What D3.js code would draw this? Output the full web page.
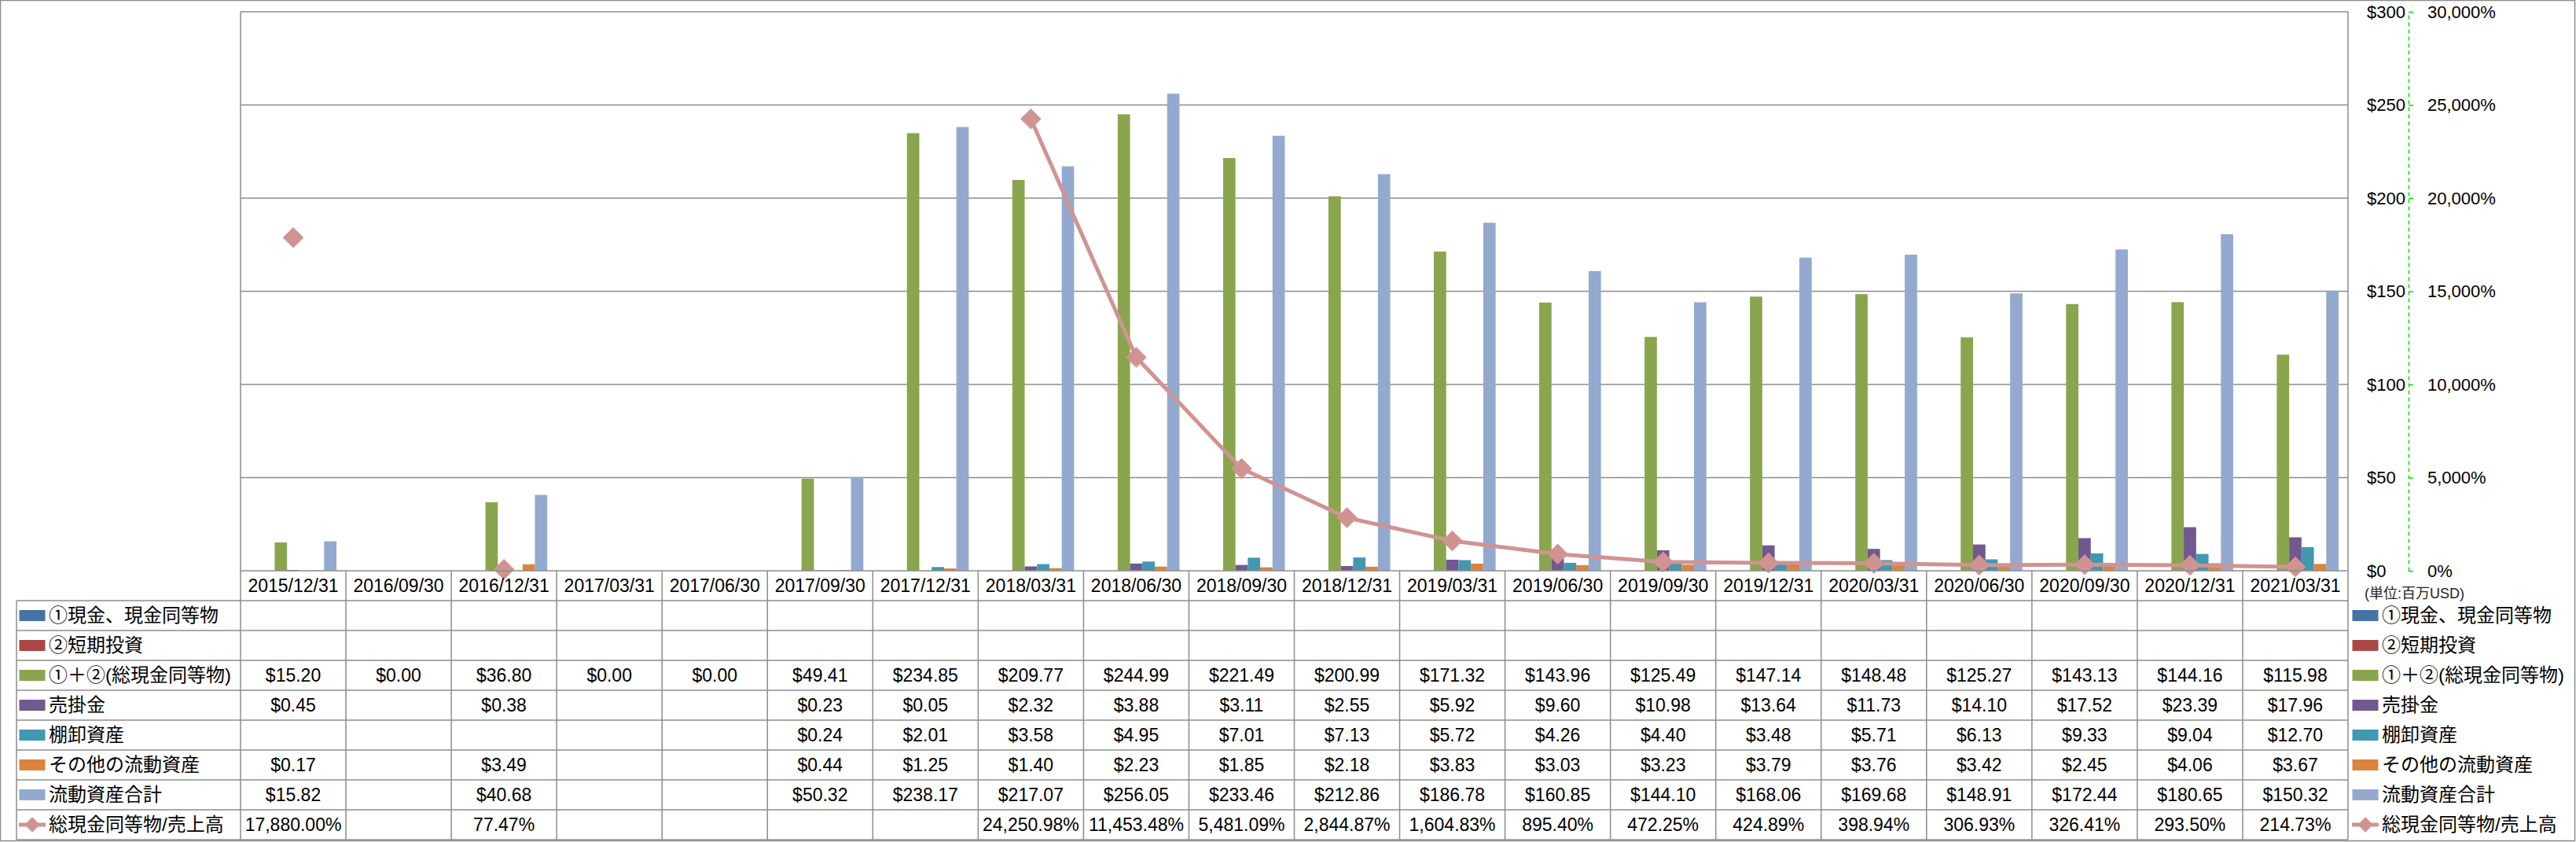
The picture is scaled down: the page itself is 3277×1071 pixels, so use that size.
<!DOCTYPE html>
<html>
<head>
<meta charset="utf-8">
<script src="https://cdn.jsdelivr.net/npm/d3@7/dist/d3.min.js"></script>
<style>
  body { margin: 0; background: #fff; }
  svg { display: block; font-family: "Liberation Sans", "Noto Sans CJK JP", sans-serif; }
</style>
</head>
<body>
<svg id="chart" width="3277" height="1071"></svg>
<script>
var categories = ["2015/12/31","2016/09/30","2016/12/31","2017/03/31","2017/06/30","2017/09/30","2017/12/31",
  "2018/03/31","2018/06/30","2018/09/30","2018/12/31","2019/03/31","2019/06/30","2019/09/30","2019/12/31",
  "2020/03/31","2020/06/30","2020/09/30","2020/12/31","2021/03/31"];

var cash        = [null,null,null,null,null,null,null,null,null,null,null,null,null,null,null,null,null,null,null,null];
var shortInv    = [null,null,null,null,null,null,null,null,null,null,null,null,null,null,null,null,null,null,null,null];
var totalCash   = [15.20,0.00,36.80,0.00,0.00,49.41,234.85,209.77,244.99,221.49,200.99,171.32,143.96,125.49,147.14,148.48,125.27,143.13,144.16,115.98];
var receivables = [0.45,null,0.38,null,null,0.23,0.05,2.32,3.88,3.11,2.55,5.92,9.60,10.98,13.64,11.73,14.10,17.52,23.39,17.96];
var inventory   = [null,null,null,null,null,0.24,2.01,3.58,4.95,7.01,7.13,5.72,4.26,4.40,3.48,5.71,6.13,9.33,9.04,12.70];
var otherAssets = [0.17,null,3.49,null,null,0.44,1.25,1.40,2.23,1.85,2.18,3.83,3.03,3.23,3.79,3.76,3.42,2.45,4.06,3.67];
var currentTotal= [15.82,null,40.68,null,null,50.32,238.17,217.07,256.05,233.46,212.86,186.78,160.85,144.10,168.06,169.68,148.91,172.44,180.65,150.32];
var cashRatio   = [17880.00,null,77.47,null,null,null,null,24250.98,11453.48,5481.09,2844.87,1604.83,895.40,472.25,424.89,398.94,306.93,326.41,293.50,214.73];

var leftTicks = [0,50,100,150,200,250,300];
var rightTicks = [0,5000,10000,15000,20000,25000,30000];

var barSeries = [
  { name: "①現金、現金同等物", values: cash, color: "#4572A7" },
  { name: "②短期投資", values: shortInv, color: "#AA4643" },
  { name: "①＋②(総現金同等物)", values: totalCash, color: "#89A54E" },
  { name: "売掛金", values: receivables, color: "#71588F" },
  { name: "棚卸資産", values: inventory, color: "#4198AF" },
  { name: "その他の流動資産", values: otherAssets, color: "#DB843D" },
  { name: "流動資産合計", values: currentTotal, color: "#93A9CF" }
];
var lineSeries = { name: "総現金同等物/売上高", values: cashRatio, color: "#D09392" };

var plotLeft = 306, plotRight = 2987, plotTop = 15, plotBottom = 726;
var rowH = 38, tableLeft = 21;
var gridColor = "#8c8c8c";

var svg = d3.select("#chart");

var x = d3.scaleBand().domain(categories).range([plotLeft, plotRight]).padding(0);
var xs = d3.scaleBand().domain(barSeries.map(function(s) { return s.name; }))
  .range([12, x.bandwidth() - 12]).padding(0);
var y = d3.scaleLinear().domain([0, 300]).range([plotBottom, plotTop]);
var y2 = d3.scaleLinear().domain([0, 30000]).range([plotBottom, plotTop]);

// outer border
svg.append("rect").attr("x", 0.5).attr("y", 0.5).attr("width", 3275).attr("height", 1069)
  .attr("fill", "none").attr("stroke", gridColor).attr("stroke-width", 1.5);

// gridlines
svg.append("g").selectAll("line").data(leftTicks.filter(function(d) { return d > 0; }))
  .enter().append("line")
  .attr("x1", plotLeft).attr("x2", plotRight)
  .attr("y1", function(d) { return y(d); }).attr("y2", function(d) { return y(d); })
  .attr("stroke", gridColor).attr("stroke-width", 1.5);

// plot sides
svg.append("line").attr("x1", plotLeft).attr("x2", plotLeft).attr("y1", plotTop).attr("y2", plotBottom)
  .attr("stroke", gridColor).attr("stroke-width", 1.5);
svg.append("line").attr("x1", plotRight).attr("x2", plotRight).attr("y1", plotTop).attr("y2", plotBottom)
  .attr("stroke", gridColor).attr("stroke-width", 1.5);

// bars
barSeries.forEach(function(s) {
  svg.append("g").selectAll("rect")
    .data(s.values.map(function(v, i) { return { c: categories[i], v: v }; })
      .filter(function(d) { return d.v != null && d.v > 0; }))
    .enter().append("rect")
    .attr("x", function(d) { return x(d.c) + xs(s.name); })
    .attr("width", xs.bandwidth())
    .attr("y", function(d) { return y(d.v); })
    .attr("height", function(d) { return plotBottom - y(d.v); })
    .attr("fill", s.color);
});

// line
var pts = lineSeries.values.map(function(v, i) { return { c: categories[i], v: v }; });
var line = d3.line()
  .defined(function(d) { return d.v != null; })
  .x(function(d) { return x(d.c) + x.bandwidth() / 2; })
  .y(function(d) { return y2(d.v); });
svg.append("path").datum(pts).attr("d", line)
  .attr("fill", "none").attr("stroke", lineSeries.color).attr("stroke-width", 5)
  .attr("stroke-linejoin", "round");

var diamond = d3.symbol().type(d3.symbolDiamond2).size(2 * 15 * 15);
svg.append("g").selectAll("path")
  .data(pts.filter(function(d) { return d.v != null; }))
  .enter().append("path")
  .attr("d", diamond)
  .attr("transform", function(d) {
    return "translate(" + (x(d.c) + x.bandwidth() / 2) + "," + y2(d.v) + ")";
  })
  .attr("fill", lineSeries.color);

// axes on the right
var leftAxis = svg.append("g").attr("transform", "translate(3011,0)")
  .call(d3.axisRight(y).tickValues(leftTicks).tickSize(0).tickPadding(0)
    .tickFormat(function(d) { return "$" + d; }));
leftAxis.select(".domain").remove();

var rightAxis = svg.append("g").attr("transform", "translate(3064,0)")
  .call(d3.axisRight(y2).tickValues(rightTicks).tickSize(6).tickPadding(18).tickSizeOuter(0)
    .tickFormat(function(d) { return d3.format(",")(d) + "%"; }));
rightAxis.select(".domain").attr("stroke", "#00e000").attr("stroke-width", 1.5).attr("stroke-dasharray", "5,4");
rightAxis.selectAll(".tick line").attr("stroke", "#00e000").attr("stroke-width", 1.5);

svg.selectAll(".tick text").attr("font-size", 22).attr("fill", "#000")
  .attr("font-family", "'Liberation Sans', sans-serif");

svg.append("text").attr("x", 3008).attr("y", 755).attr("dy", "0.35em")
  .attr("font-size", 18).attr("fill", "#222").text("(単位:百万USD)");

// data table
var tableTop = plotBottom;
var nRows = barSeries.length + 1;
var tableBottom = tableTop + rowH * (nRows + 1);
var table = svg.append("g");

table.append("line").attr("x1", plotLeft).attr("x2", plotRight).attr("y1", tableTop).attr("y2", tableTop)
  .attr("stroke", gridColor).attr("stroke-width", 1.5);
for (var r = 1; r <= nRows + 1; r++) {
  table.append("line").attr("x1", tableLeft).attr("x2", plotRight)
    .attr("y1", tableTop + rowH * r).attr("y2", tableTop + rowH * r)
    .attr("stroke", gridColor).attr("stroke-width", 1.5);
}
table.append("line").attr("x1", tableLeft).attr("x2", tableLeft)
  .attr("y1", tableTop + rowH).attr("y2", tableBottom)
  .attr("stroke", gridColor).attr("stroke-width", 1.5);
table.selectAll(".vsep").data(categories.concat(["end"]))
  .enter().append("line")
  .attr("x1", function(d, i) { return plotLeft + i * x.bandwidth(); })
  .attr("x2", function(d, i) { return plotLeft + i * x.bandwidth(); })
  .attr("y1", tableTop).attr("y2", tableBottom)
  .attr("stroke", gridColor).attr("stroke-width", 1.5);

// header
table.selectAll(".hdr").data(categories).enter().append("text")
  .attr("x", function(d) { return x(d) + x.bandwidth() / 2; })
  .attr("y", tableTop + rowH / 2).attr("dy", "0.35em")
  .attr("text-anchor", "middle").attr("font-size", 23).attr("fill", "#000")
  .text(function(d) { return d; });

var money = function(v) { return "$" + d3.format(",.2f")(v); };
var pct = function(v) { return d3.format(",.2f")(v) + "%"; };

var rows = barSeries.map(function(s) { return { name: s.name, values: s.values, color: s.color, fmt: money, kind: "bar" }; });
rows.push({ name: lineSeries.name, values: lineSeries.values, color: lineSeries.color, fmt: pct, kind: "line" });

function drawKey(g, k, cx, cy) {
  if (k.kind === "bar") {
    g.append("rect").attr("x", cx - 16.5).attr("y", cy - 7).attr("width", 33).attr("height", 14).attr("fill", k.color);
  } else {
    g.append("line").attr("x1", cx - 17).attr("x2", cx + 17).attr("y1", cy).attr("y2", cy)
      .attr("stroke", k.color).attr("stroke-width", 5);
    g.append("path").attr("d", d3.symbol().type(d3.symbolDiamond2).size(2 * 11 * 11))
      .attr("transform", "translate(" + cx + "," + cy + ")").attr("fill", k.color);
  }
}

rows.forEach(function(row, ri) {
  var cy = tableTop + rowH * (ri + 1) + rowH / 2;
  drawKey(table, row, 41, cy);
  table.append("text").attr("x", 62).attr("y", cy).attr("dy", "0.35em")
    .attr("font-size", 24).attr("fill", "#000").text(row.name);
  table.append("g").selectAll("text")
    .data(row.values.map(function(v, i) { return { c: categories[i], v: v }; })
      .filter(function(d) { return d.v != null; }))
    .enter().append("text")
    .attr("x", function(d) { return x(d.c) + x.bandwidth() / 2; })
    .attr("y", cy).attr("dy", "0.35em")
    .attr("text-anchor", "middle").attr("font-size", 23).attr("fill", "#000")
    .text(function(d) { return row.fmt(d.v); });
  // legend on the right
  drawKey(table, row, 3009, cy);
  table.append("text").attr("x", 3030).attr("y", cy).attr("dy", "0.35em")
    .attr("font-size", 24).attr("fill", "#000").text(row.name);
});
</script>
</body>
</html>
